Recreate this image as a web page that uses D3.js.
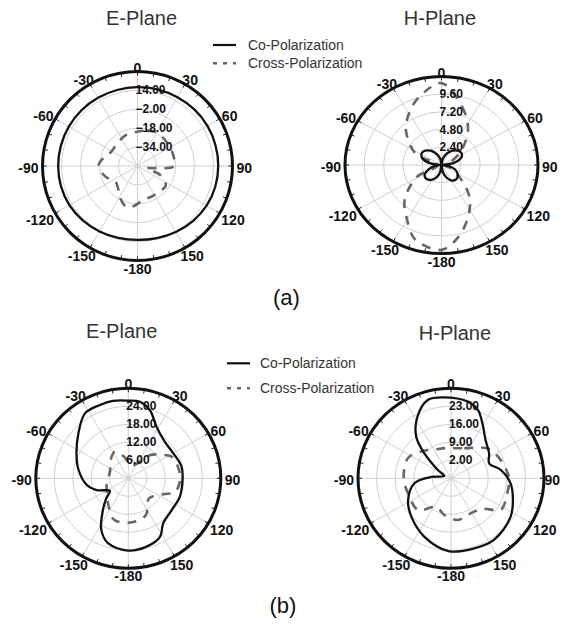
<!DOCTYPE html>
<html>
<head>
<meta charset="utf-8">
<script src="https://cdn.jsdelivr.net/npm/d3@7"></script>
<style>
  body { margin: 0; background: #fff; }
  text { font-family: "Liberation Sans", Arial, sans-serif; }
</style>
</head>
<body>
<svg id="chart" width="562" height="628"></svg>
<script>
// angle labels, clockwise from the top
const spokeAngles = [0, 30, 60, 90, 120, 150, 180, 210, 240, 270, 300, 330];
const spokeLabels = ["0", "30", "60", "90", "120", "150", "-180", "-150", "-120", "-90", "-60", "-30"];

// (a) E-plane
const aEDomain = [-50, 30];
const aERings = [-34, -18, -2, 14];
const aECoAng = [0, 15, 30, 45, 60, 75, 90, 105, 120, 135, 150, 165, 180, 195, 210, 225, 240, 255, 270, 285, 300, 315, 330, 345];
const aECoVal = [16.7, 17, 17.3, 17.7, 18, 18, 18, 17.8, 17.2, 16, 14.5, 13.2, 12.6, 13, 14, 15.2, 16.2, 16.7, 16.8, 16.8, 16.8, 16.7, 16.6, 16.6];
const aEXAng = [0, 15, 30, 45, 60, 75, 90, 97, 104, 112, 125, 140, 155, 170, 185, 195, 210, 220, 236, 250, 270, 285, 298, 322, 340];
const aEXVal = [-21, -19, -17.2, -18, -18.5, -18.5, -19, -35, -42, -29, -21, -21.5, -21.5, -21, -16, -14, -20, -24.7, -27.3, -22, -17.2, -21, -24.7, -24, -22];

// (a) H-plane
const aHDomain = [0, 12];
const aHRings = [2.4, 4.8, 7.2, 9.6];
const aHCoAng = [0, 10, 20, 30, 40, 50, 60, 70, 80, 90, 100, 110, 120, 130, 140, 150, 160, 170, 180, 190, 200, 210, 220, 230, 240, 250, 260, 270, 280, 290, 300, 310, 320, 330, 340, 350];
const aHCoVal = [0.05, 0.8, 1.5, 2.1, 2.6, 2.9, 2.95, 2.5, 1.5, 0.2, 1.0, 1.8, 2.3, 2.6, 2.65, 2.4, 1.8, 1.0, 0.05, 1.0, 1.8, 2.3, 2.6, 2.65, 2.4, 1.7, 0.9, 0.2, 1.5, 2.5, 2.9, 2.9, 2.6, 2.1, 1.5, 0.8];
const aHXAng = [0, 18, 34, 51, 70, 90, 110, 129, 142, 155, 168, 180, 198, 211, 224, 242, 270, 295, 317, 331, 343];
const aHXVal = [11.1, 8.3, 5.9, 3.2, 1.2, 0.3, 1.2, 3.2, 5.7, 7.8, 10, 11.5, 10.6, 8.4, 6.6, 3.5, 0.5, 3.5, 6.5, 8.2, 9.6];

// (b) E-plane
const bEDomain = [0, 30];
const bERings = [6, 12, 18, 24];
const bECoAng = [0, 8, 17, 28, 44, 60, 77, 90, 110, 127, 143, 152, 165, 180, 197, 207, 216, 227, 235, 249, 261, 280, 296, 313, 327, 339, 349];
const bECoVal = [25.9, 25.8, 23.8, 19.5, 17, 16.8, 17.7, 17.6, 17.8, 17.6, 18.8, 22, 23.5, 24.1, 22.6, 19.3, 14.3, 9.8, 7.3, 11, 13.7, 16.4, 18.7, 22.1, 25.8, 26.1, 26.3];
const bEXAng = [0, 20, 43, 54, 63, 78, 92, 107, 115, 135, 155, 175, 198, 216, 235, 250, 270, 295, 310, 334, 348];
const bEXVal = [5.5, 4.7, 10.6, 13.3, 15.8, 16.6, 16.8, 15.8, 12.5, 9.5, 13.5, 14.7, 14.6, 11, 8.5, 7.5, 6.5, 6.5, 7.8, 9.9, 7.5];

// (b) H-plane
const bHDomain = [-5, 30];
const bHRings = [2, 9, 16, 23];
const bHCoAng = [12, 21, 30, 41, 56, 68, 80, 95, 110, 124, 146, 165, 182, 204, 225, 242, 262, 274, 290, 303, 314, 321, 332, 344, 355];
const bHCoVal = [25.5, 23.4, 18.9, 14.8, 12.3, 10.5, 14, 17.5, 19.8, 22, 23.9, 23.6, 23.3, 19.8, 16.1, 13.3, 8.9, 2.5, -2.3, 0.9, 8.9, 15.8, 22, 26.7, 26.6];
const bHXAng = [0, 23, 50, 69, 90, 108, 123, 135, 150, 171, 190, 207, 225, 250, 270, 296, 315, 335, 348];
const bHXVal = [6.7, 7.7, 13, 15, 16.8, 17, 17.4, 11.8, 10.5, 11.4, 9.5, 7.4, 12.5, 12.2, 12.8, 13, 10, 7.5, 7];

const W = 562;
const svg = d3.select("#chart");
const rad = a => a * Math.PI / 180;

function drawPolar(p) {
    const g = svg.append("g");
    const r = d3.scaleLinear().domain(p.domain).range([0, 1]).clamp(true);
    const px = (a, v) => p.cx + p.rx * r(v) * Math.sin(rad(a));
    const py = (a, v) => p.cy - p.ry * r(v) * Math.cos(rad(a));

    // grid
    g.selectAll(".spoke").data(spokeAngles).join("line")
        .attr("x1", p.cx).attr("y1", p.cy)
        .attr("x2", a => px(a, p.domain[1]))
        .attr("y2", a => py(a, p.domain[1]))
        .attr("stroke", "#d0d0d0").attr("stroke-width", 1);
    g.selectAll(".ring").data(p.rings).join("ellipse")
        .attr("cx", p.cx).attr("cy", p.cy)
        .attr("rx", v => p.rx * r(v)).attr("ry", v => p.ry * r(v))
        .attr("fill", "none").attr("stroke", "#d0d0d0").attr("stroke-width", 1);

    // small ticks inside the outer circle
    g.selectAll(".tk").data(d3.range(0, 360, 10)).join("line")
        .attr("x1", a => p.cx + p.rx * Math.sin(rad(a)))
        .attr("y1", a => p.cy - p.ry * Math.cos(rad(a)))
        .attr("x2", a => p.cx + (p.rx - 4) * Math.sin(rad(a)))
        .attr("y2", a => p.cy - (p.ry - 4) * Math.cos(rad(a)))
        .attr("stroke", "#222").attr("stroke-width", 1);

    g.append("ellipse")
        .attr("cx", p.cx).attr("cy", p.cy).attr("rx", p.rx).attr("ry", p.ry)
        .attr("fill", "none").attr("stroke", "#111").attr("stroke-width", 3);

    const line = d3.line()
        .x(d => px(d[0], d[1]))
        .y(d => py(d[0], d[1]))
        .curve(d3.curveCatmullRomClosed.alpha(0.5));

    g.append("path")
        .attr("d", line(d3.zip(p.xAng, p.xVal)))
        .attr("fill", "none").attr("stroke", "#666").attr("stroke-width", 2.6)
        .attr("stroke-dasharray", "9,8");
    g.append("path")
        .attr("d", line(d3.zip(p.coAng, p.coVal)))
        .attr("fill", "none").attr("stroke", "#111").attr("stroke-width", 2.3);

    // angle labels
    g.selectAll(".al").data(spokeAngles).join("text")
        .attr("font-size", 14).attr("font-weight", "bold").attr("fill", "#111")
        .attr("text-anchor", "middle").attr("dominant-baseline", "central")
        .text((a, i) => spokeLabels[i])
        .each(function (a) {
            const w = this.getComputedTextLength();
            const s = Math.sin(rad(a)), c = Math.cos(rad(a));
            const gap = 1 + 3 * Math.abs(s);
            const x = p.cx + s * (p.rx + gap + w / 2);
            d3.select(this)
                .attr("x", Math.min(x, W - w / 2 - 2))
                .attr("y", p.cy - c * (p.ry + gap + 5) + 2);
        });

    // ring labels
    g.selectAll(".rl").data(p.rings).join("text")
        .attr("font-size", 12).attr("font-weight", "bold").attr("fill", "#111")
        .attr("dominant-baseline", "central")
        .attr("x", p.cx - 2)
        .attr("y", v => p.cy - p.ry * r(v))
        .text(d3.format(".2f"));
}

drawPolar({cx: 137.5, cy: 166, rx: 95, ry: 94.5, domain: aEDomain, rings: aERings,
    coAng: aECoAng, coVal: aECoVal, xAng: aEXAng, xVal: aEXVal});
drawPolar({cx: 441.5, cy: 165, rx: 96.5, ry: 88.5, domain: aHDomain, rings: aHRings,
    coAng: aHCoAng, coVal: aHCoVal, xAng: aHXAng, xVal: aHXVal});
drawPolar({cx: 128.3, cy: 478.3, rx: 92.5, ry: 90, domain: bEDomain, rings: bERings,
    coAng: bECoAng, coVal: bECoVal, xAng: bEXAng, xVal: bEXVal});
drawPolar({cx: 451, cy: 478.3, rx: 93, ry: 90, domain: bHDomain, rings: bHRings,
    coAng: bHCoAng, coVal: bHCoVal, xAng: bHXAng, xVal: bHXVal});

// titles
const titles = [
    {t: "E-Plane", x: 141.5, y: 25},
    {t: "H-Plane", x: 440, y: 25},
    {t: "E-Plane", x: 121.7, y: 338},
    {t: "H-Plane", x: 455, y: 340}
];
svg.selectAll(".title").data(titles).join("text")
    .attr("x", d => d.x).attr("y", d => d.y)
    .attr("text-anchor", "middle").attr("font-size", 20).attr("fill", "#333")
    .text(d => d.t);

// legends
function legend(x, y1, y2, tx) {
    svg.append("line").attr("x1", x).attr("x2", x + 23).attr("y1", y1).attr("y2", y1)
        .attr("stroke", "#111").attr("stroke-width", 2.2);
    svg.append("line").attr("x1", x).attr("x2", x + 23).attr("y1", y2).attr("y2", y2)
        .attr("stroke", "#666").attr("stroke-width", 2.4).attr("stroke-dasharray", "4,6");
    svg.append("text").attr("x", tx).attr("y", y1 + 5).attr("font-size", 14).attr("fill", "#333")
        .text("Co-Polarization");
    svg.append("text").attr("x", tx).attr("y", y2 + 5).attr("font-size", 14).attr("fill", "#333")
        .text("Cross-Polarization");
}
legend(213, 45, 63.3, 248);
legend(227, 363.3, 388.3, 260);

// sub-figure captions
const captions = [{t: "(a)", x: 286.5, y: 305}, {t: "(b)", x: 283, y: 613}];
svg.selectAll(".cap").data(captions).join("text")
    .attr("x", d => d.x).attr("y", d => d.y)
    .attr("text-anchor", "middle").attr("font-size", 22).attr("fill", "#111")
    .attr("font-family", "'Liberation Serif', 'Times New Roman', serif")
    .text(d => d.t);
</script>
</body>
</html>
